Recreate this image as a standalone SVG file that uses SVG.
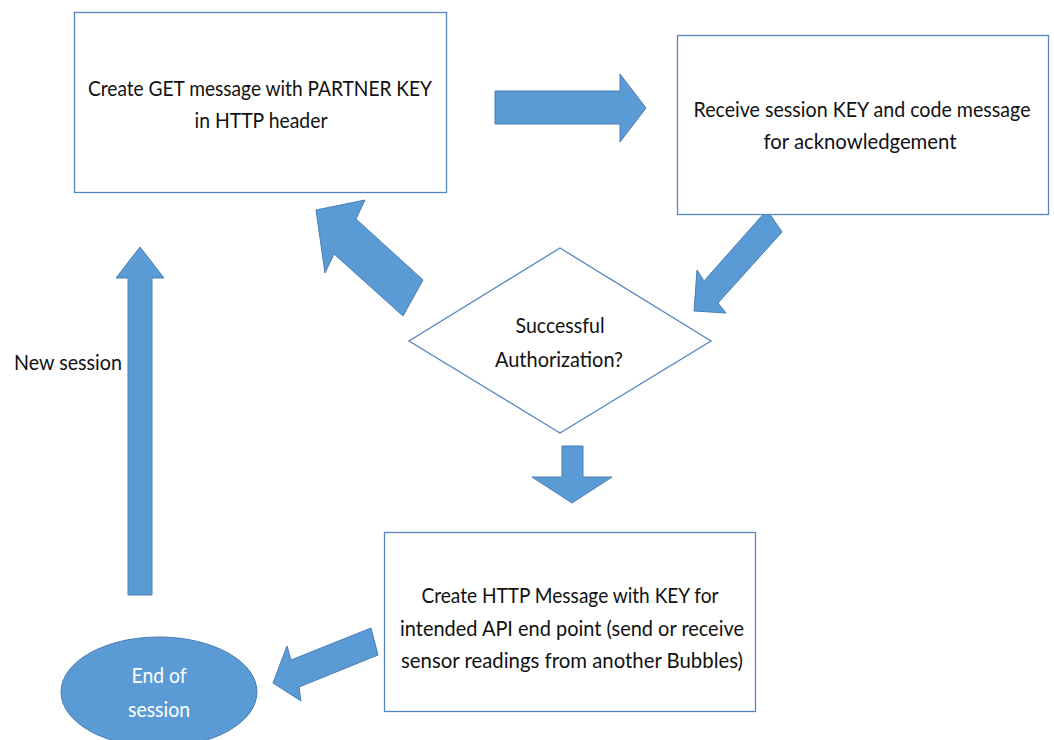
<svg xmlns="http://www.w3.org/2000/svg" width="1054" height="740" viewBox="0 0 1054 740">
<style>
.box{fill:#fff;stroke:#5585BF;stroke-width:1.3}
.arr{fill:#5B9BD5;stroke:#4A7EB5;stroke-width:1}
.t{font-family:Lato,"Open Sans","Liberation Sans",sans-serif;font-size:21.5px;fill:#111;text-anchor:middle}
.w{fill:#fff}
</style>
<rect width="1054" height="740" fill="#fff"/>
<g id="connectors">
<polygon class="arr" points="495,91 620,91 620,74 646,108 620,142 620,124 495,124"/>
<polygon class="arr" points="767,210 782,232 718,303 726,313 694,311 697,270 704,281"/>
<polygon class="arr" points="562,446 583,446 583,477 612,477 572,503 532,477 562,477"/>
<polygon class="arr" points="371,628 378,655 299,687 301,701 273,683 287,646 291,660"/>
<polygon class="arr" points="128,595 152,595 152,278 164,278 140,247 116,278 128,278"/>
<polygon class="arr" points="423,280 403,316 334,254 325,273 316,210 365,200 356,219"/>
</g>
<g id="n1">
<rect class="box" x="74.5" y="12.5" width="372" height="180"/>
<text class="t" x="260" y="96" textLength="344" lengthAdjust="spacingAndGlyphs">Create GET message with PARTNER KEY</text>
<text class="t" x="261" y="128" textLength="133" lengthAdjust="spacingAndGlyphs">in HTTP header</text>
</g>
<g id="n2">
<rect class="box" x="677.5" y="35.5" width="371" height="179"/>
<text class="t" x="862" y="117" textLength="337" lengthAdjust="spacingAndGlyphs">Receive session KEY and code message</text>
<text class="t" x="860" y="149" textLength="193" lengthAdjust="spacingAndGlyphs">for acknowledgement</text>
</g>
<g id="n3">
<polygon class="box" points="560,248 711,341 560,433 409,341"/>
<text class="t" x="560" y="333" textLength="89" lengthAdjust="spacingAndGlyphs">Successful</text>
<text class="t" x="559" y="367" textLength="128" lengthAdjust="spacingAndGlyphs">Authorization?</text>
</g>
<g id="n4">
<rect class="box" x="384.5" y="532.5" width="371" height="179"/>
<text class="t" x="570" y="603" textLength="297" lengthAdjust="spacingAndGlyphs">Create HTTP Message with KEY for</text>
<text class="t" x="572" y="636" textLength="344" lengthAdjust="spacingAndGlyphs">intended API end point (send or receive</text>
<text class="t" x="572" y="668" textLength="342" lengthAdjust="spacingAndGlyphs">sensor readings from another Bubbles)</text>
</g>
<g id="n5">
<ellipse cx="159" cy="692" rx="98" ry="55" fill="#5B9BD5" stroke="#4A7EB5" stroke-width="1"/>
<text class="t w" x="159" y="683" textLength="55" lengthAdjust="spacingAndGlyphs">End of</text>
<text class="t w" x="159" y="717" textLength="62" lengthAdjust="spacingAndGlyphs">session</text>
</g>
<g id="label">
<text class="t" x="68" y="370" textLength="108" lengthAdjust="spacingAndGlyphs">New session</text>
</g>
</svg>
